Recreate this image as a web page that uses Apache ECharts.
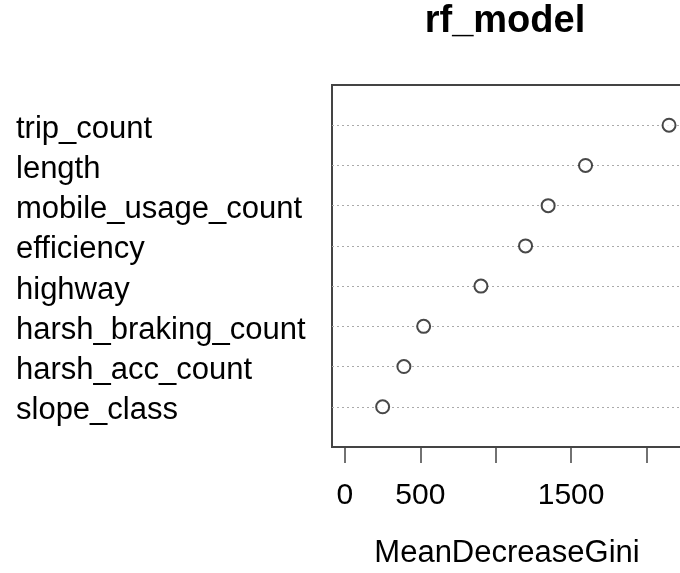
<!DOCTYPE html>
<html>
<head>
<meta charset="utf-8">
<script src="https://cdn.jsdelivr.net/npm/echarts@6/dist/echarts.min.js"></script>
<style>html,body{margin:0;padding:0;background:#fff;}#c{width:680px;height:573px;}</style>
</head>
<body>
<div id="c"></div>
<script>
// Variables, top to bottom as in the reference
var categories = ['trip_count', 'length', 'mobile_usage_count', 'efficiency', 'highway', 'harsh_braking_count', 'harsh_acc_count', 'slope_class'];
var gini = [2150, 1596, 1348, 1198, 902, 522, 391, 250];
var tickValues = [0, 500, 1000, 1500, 2000];
var tickLabels = [0, 500, 1500];
var titleText = 'rf_model';
var xName = 'MeanDecreaseGini';

var n = categories.length;
var points = categories.map(function (c, i) { return [gini[i], n - i]; });
var rowLines = categories.map(function (c, i) { return { yAxis: n - i }; });

var font = 'Liberation Sans, Arial, sans-serif';
var chart = echarts.init(document.getElementById('c'), null, { renderer: 'canvas' });
chart.setOption({
  animation: false,
  backgroundColor: '#ffffff',
  title: {
    text: titleText,
    left: 500,
    top: -2,
    textAlign: 'center',
    textStyle: { fontFamily: font, fontWeight: 'bold', fontSize: 38, color: '#000' }
  },
  grid: {
    left: 332, right: -2, top: 85, bottom: 126,
    show: true, borderColor: '#444', borderWidth: 2, backgroundColor: 'transparent',
    containLabel: false, outerBoundsMode: 'none'
  },
  xAxis: {
    type: 'value', min: -86, max: 2236,
    name: xName, nameLocation: 'middle', nameGap: 91,
    nameTextStyle: { fontFamily: font, fontSize: 31, color: '#000' },
    axisLine: { show: false },
    axisTick: { show: true, length: 16, inside: false, customValues: tickValues, lineStyle: { color: '#444', width: 1.5 } },
    axisLabel: {
      customValues: tickLabels, margin: 34, fontFamily: font, fontSize: 30, color: '#000',
      formatter: function (v) { return String(v); }
    },
    splitLine: { show: false }
  },
  yAxis: {
    type: 'value', min: 0, max: n + 1, interval: 1,
    axisLine: { show: false },
    axisTick: { show: false },
    splitLine: { show: false },
    axisLabel: {
      margin: 316, align: 'left', verticalAlign: 'top', lineHeight: 8,
      fontFamily: font, fontSize: 31, color: '#000',
      formatter: function (v) { var i = n - v; return (i >= 0 && i < n) ? categories[i] : ''; }
    }
  },
  series: [{
    type: 'scatter',
    data: points,
    symbol: 'circle',
    symbolSize: 13,
    itemStyle: { color: '#ffffff', borderColor: '#1a1a1a', borderWidth: 2 },
    z: 5,
    markLine: {
      silent: true, symbol: ['none', 'none'], label: { show: false },
      lineStyle: { type: [2, 3], color: '#aaaaaa', width: 1 },
      data: rowLines,
      animation: false
    }
  }]
});
</script>
</body>
</html>
